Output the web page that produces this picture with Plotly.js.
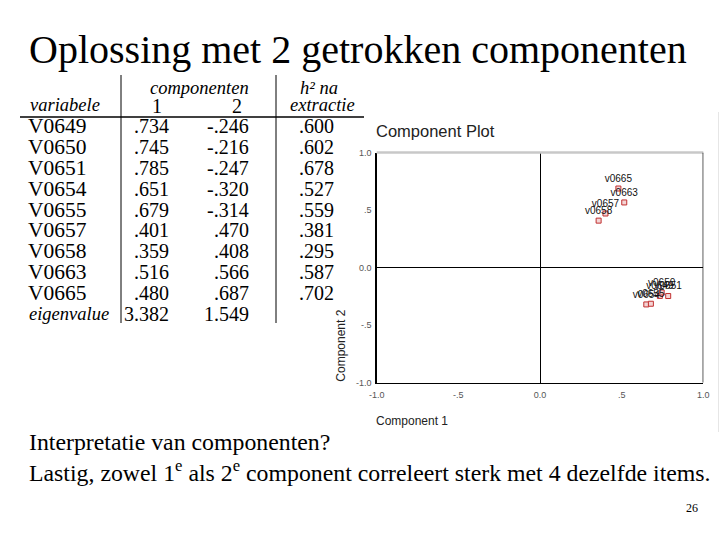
<!DOCTYPE html>
<html>
<head>
<meta charset="utf-8">
<script src="https://cdn.plot.ly/plotly-3.0.1.min.js"></script>
<style>html,body{margin:0;padding:0;background:#fff;}#chart{width:720px;height:540px;}</style>
</head>
<body>
<div id="chart"></div>
<script>
// ---- data ----
const variables = ["V0649","V0650","V0651","V0654","V0655","V0657","V0658","V0663","V0665"];
const comp1 = [0.734, 0.745, 0.785, 0.651, 0.679, 0.401, 0.359, 0.516, 0.480];
const comp2 = [-0.246, -0.216, -0.247, -0.320, -0.314, 0.470, 0.408, 0.566, 0.687];
const h2 = [0.600, 0.602, 0.678, 0.527, 0.559, 0.381, 0.295, 0.587, 0.702];
const eigenvalues = [3.382, 1.549];
const axisTickVals = [-1, -0.5, 0, 0.5, 1];
const axisTickText = ["-1.0", "-.5", "0.0", ".5", "1.0"];

// ---- helpers ----
const W = 720, H = 540;
const px = x => x / W;
const py = y => 1 - y / H;
const fmt = v => {
  const s = Math.abs(v).toFixed(3).replace(/^0/, "");
  return (v < 0 ? "-" : "") + s;
};
const serif = "Liberation Serif, Times New Roman, serif";
const sans = "Liberation Sans, Arial, sans-serif";

const annotations = [];
const shapes = [];
function txt(text, x, y, opts) {
  const o = Object.assign({
    text: text, xref: "paper", yref: "paper", x: px(x), y: py(y),
    showarrow: false, xanchor: "left", yanchor: "middle", borderpad: 0,
    font: {family: serif, size: 20, color: "#000"}
  }, opts || {});
  if (o.xshift === undefined) {
    o.xshift = o.xanchor === "left" ? -2 : (o.xanchor === "right" ? 2 : 0);
  }
  annotations.push(o);
}

const hdr = {family: serif, size: 18.5, color: "#000"};

// slide title
txt("Oplossing met 2 getrokken componenten", 30, 49, {font: {family: serif, size: 40, color: "#000"}});

// table header
txt("<i>componenten</i>", 199, 88, {xanchor: "center", font: hdr});
txt("<i>h² na</i>", 319, 88, {xanchor: "center", font: hdr});
txt("<i>variabele</i>", 31, 105, {font: hdr});
txt("1", 157, 106, {xanchor: "center"});
txt("2", 237, 106, {xanchor: "center"});
txt("<i>extractie</i>", 322, 105, {xanchor: "center", font: hdr});

// table body
const rowY0 = 126, rowDy = 20.9;
variables.forEach((v, i) => {
  const y = rowY0 + i * rowDy;
  txt(v, 29, y, {font: {family: serif, size: 21.5, color: "#000"}});
  txt(fmt(comp1[i]), 168, y, {xanchor: "right"});
  txt(fmt(comp2[i]), 248, y, {xanchor: "right"});
  txt(fmt(h2[i]), 333, y, {xanchor: "right"});
});
const eY = rowY0 + variables.length * rowDy;
txt("<i>eigenvalue</i>", 30, eY, {font: hdr});
txt(eigenvalues[0].toFixed(3), 168, eY, {xanchor: "right"});
txt(eigenvalues[1].toFixed(3), 248, eY, {xanchor: "right"});

// table lines
shapes.push({type: "line", xref: "paper", yref: "paper", x0: px(20), x1: px(364), y0: py(117), y1: py(117), line: {color: "#000", width: 1.3}});
shapes.push({type: "line", xref: "paper", yref: "paper", x0: px(121), x1: px(121), y0: py(75), y1: py(323), line: {color: "#000", width: 1}});
shapes.push({type: "line", xref: "paper", yref: "paper", x0: px(276), x1: px(276), y0: py(75), y1: py(323), line: {color: "#000", width: 1}});

// plot frame pieces
const xl = 376.7, xr = 703.3, yt = 152.5, yb = 382.7;
shapes.push({type: "line", xref: "paper", yref: "paper", x0: px(xl), x1: px(xr), y0: py(yt), y1: py(yt), line: {color: "#c8c8c8", width: 2.5}});
shapes.push({type: "line", xref: "paper", yref: "paper", x0: px(718.5), x1: px(718.5), y0: py(112), y1: py(432), line: {color: "#e6e6e6", width: 1}});

// plot titles
txt("Component Plot", xl, 131, {font: {family: sans, size: 16.5, color: "#222"}});
txt("Component 1", xl, 421, {font: {family: sans, size: 12, color: "#222"}});
txt("Component 2", 341, yb, {textangle: -90, xanchor: "center", yanchor: "bottom", font: {family: sans, size: 12, color: "#222"}});

// bottom text
txt("Interpretatie van componenten?", 30, 442, {font: {family: serif, size: 23.8, color: "#000"}});
txt("Lastig, zowel 1<sup>e</sup> als 2<sup>e</sup> component correleert sterk met 4 dezelfde items.", 30, 471, {font: {family: serif, size: 23.8, color: "#000"}});
txt("26", 697, 508, {xanchor: "right", font: {family: serif, size: 12, color: "#000"}});

const trace = {
  type: "scatter", mode: "markers+text",
  x: comp1, y: comp2,
  text: variables.map(v => v.toLowerCase()),
  textposition: "top center",
  textfont: {family: sans, size: 10, color: "#111"},
  marker: {symbol: "square", size: 5, color: "#f4d4d4", line: {color: "#c03030", width: 1}},
  cliponaxis: false, hoverinfo: "none"
};

const axisCommon = {
  range: [-1, 1], tickvals: axisTickVals, ticktext: axisTickText,
  showgrid: false, zeroline: true, zerolinecolor: "#000", zerolinewidth: 1,
  showline: true, linecolor: "#000", linewidth: 1.3, ticks: "",
  tickfont: {family: sans, size: 9, color: "#555"}, fixedrange: true
};

const layout = {
  width: W, height: H, margin: {l: 0, r: 0, t: 0, b: 0},
  paper_bgcolor: "#fff", plot_bgcolor: "#fff", showlegend: false,
  xaxis: Object.assign({}, axisCommon, {domain: [px(xl), px(xr)], anchor: "y", ticklabelstandoff: 3}),
  yaxis: Object.assign({}, axisCommon, {domain: [py(yb), py(yt)], anchor: "x", ticklabelstandoff: 2}),
  shapes: shapes, annotations: annotations
};
// right frame line at x = 1 in axis coordinates
layout.shapes.push({type: "line", xref: "x", yref: "y", x0: 1, x1: 1, y0: -1, y1: 1, line: {color: "#000", width: 1.3}});

Plotly.newPlot("chart", [trace], layout, {staticPlot: true, displayModeBar: false});
</script>
</body>
</html>
